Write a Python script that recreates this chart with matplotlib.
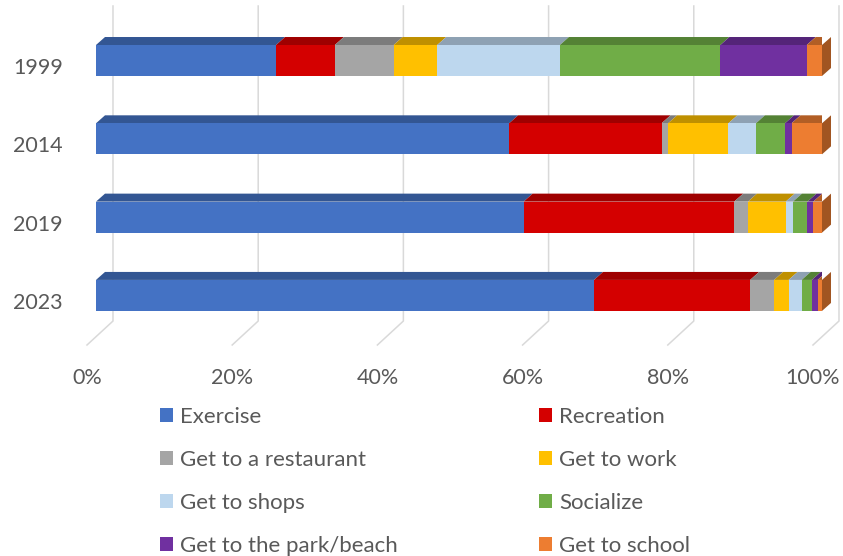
import matplotlib.pyplot as plt
from matplotlib.patches import Patch, Polygon
import numpy as np

plt.rcParams['font.family'] = ['Lato', 'DejaVu Sans']

years = ["1999", "2014", "2019", "2023"]

# share of answers (%) per year, in the order of the years list
exercise = [24.8, 56.9, 58.9, 68.6]
recreation = [8.1, 21.0, 29.0, 21.5]
restaurant = [8.1, 0.9, 1.9, 3.3]
work = [6.0, 8.3, 5.2, 2.0]
shops = [16.9, 3.8, 1.0, 1.8]
socialize = [22.1, 4.0, 2.0, 1.4]
park = [11.9, 0.9, 0.8, 0.8]
school = [2.1, 4.2, 1.2, 0.6]

labels = ["Exercise", "Recreation", "Get to a restaurant", "Get to work",
          "Get to shops", "Socialize", "Get to the park/beach", "Get to school"]
series = [exercise, recreation, restaurant, work, shops, socialize, park, school]
colors = ["#4472C4", "#D40000", "#A5A5A5", "#FFC000",
          "#BDD7EE", "#70AD47", "#7030A0", "#ED7D31"]

ticks = [0, 20, 40, 60, 80, 100]


def shade(c, k):
    r, g, b = plt.matplotlib.colors.to_rgb(c)
    return (r * k, g * k, b * k)


fig = plt.figure(figsize=(8.43, 5.56), dpi=100)
ax = fig.add_axes([96 / 843, 1 - 345 / 556, 726 / 843, 339 / 556])
ax.set_xlim(0, 100)
ax.set_ylim(3.633, -0.696)
ax.axis("off")

grid_c = "#D9D9D9"
back = 2.34    # back wall shift in x
front = 1.24   # floor front shift in x
for t in ticks:
    ax.plot([t + back, t + back, t - front], [-0.696, 3.327, 3.633],
            color=grid_c, lw=1.1, zorder=0, clip_on=False)
    ax.text(t - front, 4.055, f"{t}%", ha="center", va="center",
            fontsize=15.5, color="#595959", clip_on=False)

# bars with a top face and an end face for the 3d look
h = 0.396
dx = 1.24
dy = 0.102
ypos = np.arange(len(years))
left = np.zeros(len(years))
for vals, c in zip(series, colors):
    vals = np.array(vals)
    ax.barh(ypos, vals, height=h, left=left, color=c, zorder=3)
    for y, l, w in zip(ypos, left, vals):
        top = y - h / 2
        ax.add_patch(Polygon([(l, top), (l + w, top), (l + w + dx, top - dy),
                              (l + dx, top - dy)], closed=True,
                             facecolor=shade(c, 0.75), edgecolor="none", zorder=2))
    left = left + vals

for y, yr in zip(ypos, years):
    top = y - h / 2
    ax.add_patch(Polygon([(100, top), (100 + dx, top - dy),
                          (100 + dx, top + h - dy), (100, top + h)], closed=True,
                         facecolor=shade(colors[-1], 0.68), edgecolor="none", zorder=2,
                         clip_on=False))
    ax.text(-4.55, y + 0.096, yr, ha="right", va="center",
            fontsize=15.5, color="#595959", clip_on=False)

# legend filled row by row: two columns
order = [0, 2, 4, 6, 1, 3, 5, 7]
handles = [Patch(facecolor=colors[i], edgecolor="none") for i in order]
fig.legend(handles, [labels[i] for i in order], ncol=2, loc="upper left",
           bbox_to_anchor=(160 / 843, 1 - 407 / 556), frameon=False,
           fontsize=16, labelcolor="#595959", handlelength=0.59, handleheight=0.59,
           handletextpad=0.32, columnspacing=6.35, labelspacing=1.03,
           borderpad=0, borderaxespad=0)

fig.savefig("out.png", dpi=100)
